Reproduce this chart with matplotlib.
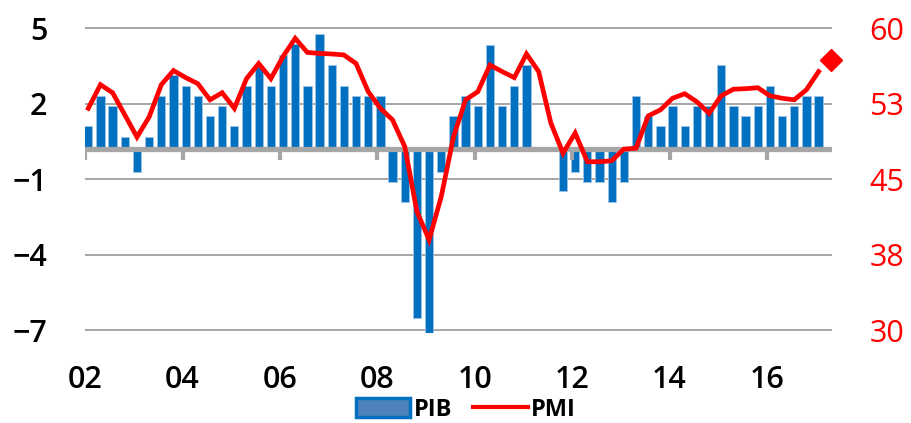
import matplotlib
matplotlib.use("Agg")
from matplotlib import pyplot as plt
from matplotlib.lines import Line2D
from matplotlib.patches import Patch
import numpy as np

plt.rcParams['font.family'] = ['Open Sans', 'DejaVu Sans']

# quarterly, 2002Q1 .. 2017Q1
pib = [0.9, 2.12, 1.72, 0.5, -0.89, 0.5, 2.12, 2.95, 2.51, 2.12, 1.3, 1.72,
       0.9, 2.51, 3.28, 2.51, 3.75, 4.17, 2.51, 4.58, 3.35, 2.51, 2.12, 2.12,
       2.12, -1.29, -2.08, -6.69, -7.3, -0.89, 1.3, 2.12, 1.72, 4.14, 1.72, 2.51,
       3.35, 0.0, 0.0, -1.68, -0.89, -1.29, -1.29, -2.08, -1.29, 2.12, 1.3, 0.9,
       1.72, 0.9, 1.72, 1.72, 3.35, 1.72, 1.3, 1.72, 2.51, 1.3, 1.72, 2.12, 2.12]
pmi = [52.05, 54.4, 53.6, 51.4, 49.2, 51.2, 54.4, 55.8, 55.1, 54.5, 52.9, 53.6,
       52.05, 55.0, 56.5, 55.0, 57.2, 59.0, 57.6, 57.5, 57.45, 57.35, 56.5, 53.7,
       52.05, 50.9, 48.25, 41.8, 39.0, 43.3, 49.2, 52.9, 53.7, 56.35, 55.7, 55.1,
       57.45, 55.7, 50.6, 47.6, 49.6, 46.75, 46.75, 46.85, 48.0, 48.1, 51.3, 51.9,
       53.05, 53.5, 52.7, 51.55, 53.3, 53.95, 54.0, 54.1, 53.3, 53.05, 52.9, 53.9, 55.7]
pmi_last = 56.8
years = ['02', '04', '06', '08', '10', '12', '14', '16']
left_labels = ['\u22127', '\u22124', '\u22121', '2', '5']
right_labels = ['30', '38', '45', '53', '60']

blue = '#0070C0'
red = '#FF0000'
grey = '#A6A6A6'

fig = plt.figure(figsize=(9.12, 4.23), dpi=100)
ax = fig.add_axes([85 / 912, 90 / 423, 747 / 912, 306 / 423])
ax2 = ax.twinx()

x = np.arange(len(pib))
ax.bar(x, pib, width=0.68, color=blue, edgecolor='#9DC3E6', linewidth=0.6, zorder=2)
ax.axhline(0, color=grey, lw=3.8, zorder=3)
ticks = np.arange(len(years)) * 8 - 0.25
ax.vlines(ticks, -0.42, 0, color=grey, lw=3, zorder=3)

ygrid = [-7.2, -4.2, -1.2, 1.8, 4.8]
for g in ygrid:
    ax.axhline(g, color=grey, lw=1.4, zorder=1)
ax.set_ylim(-7.3, 4.85)
ax.set_yticks(ygrid)
ax.set_yticklabels(left_labels, fontsize=22, fontweight='semibold')
ax.set_xlim(-0.27, 61.1)
ax.set_xticks(ticks)
ax.set_xticklabels(years, fontsize=22, fontweight='semibold')
ax.tick_params(axis='both', length=0)
ax.tick_params(axis='x', pad=23)
ax.tick_params(axis='y', pad=27)

lo = 30 + 2.5 * (-7.3 + 7.2)
hi = 30 + 2.5 * (4.85 + 7.2)
ax2.plot(x, pmi, color=red, lw=3.4, zorder=4, solid_joinstyle='miter')
ax2.plot([len(pmi)], [pmi_last], marker='D', color=red, markersize=11, clip_on=False, zorder=5)
ax2.set_ylim(lo, hi)
ax2.set_yticks([30, 37.5, 45, 52.5, 60])
ax2.set_yticklabels(right_labels, fontsize=22, color=red)
ax2.tick_params(axis='y', length=0, pad=27)

for a in (ax, ax2):
    for s in a.spines.values():
        s.set_visible(False)

handles = [Patch(facecolor='#4F81BD', edgecolor=blue, linewidth=2.5),
           Line2D([0], [0], color=red, lw=3)]
fig.legend(handles, ['PIB', 'PMI'], loc='center', bbox_to_anchor=(466 / 912, 1 - 410 / 423),
           ncol=2, frameon=False, prop={'size': 17, 'weight': 'bold'},
           handlelength=2.3, handleheight=0.85, handletextpad=0.15, columnspacing=0.9)

fig.savefig('out.png', dpi=100)
